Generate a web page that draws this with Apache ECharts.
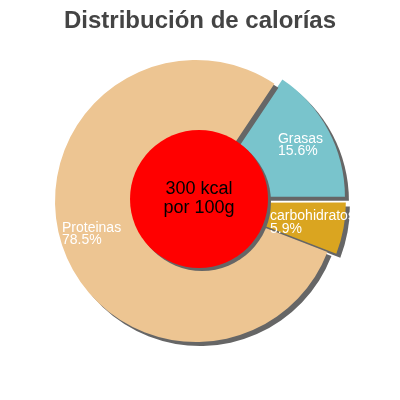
<!DOCTYPE html>
<html>
<head>
<meta charset="utf-8">
<script src="https://cdn.jsdelivr.net/npm/echarts@6/dist/echarts.min.js"></script>
<style>
  html, body { margin: 0; padding: 0; background: #fff; }
  #chart { width: 400px; height: 400px; }
</style>
</head>
<body>
<div id="chart"></div>
<script>
    // datos del gráfico
    var categories = ['Grasas', 'carbohidratos', 'Proteinas'];
    var percents = [15.6, 5.9, 78.5];
    var colors = ['#79c4cc', '#daa520', '#edc592'];
    var exploded = [true, true, false];
    var centerText = '300 kcal\npor 100g';

    var FONT = '"Liberation Sans", Arial, sans-serif';
    var PIE_CENTER = [196, 201];

    var sliceData = categories.map(function (name, i) {
        return {
            name: name,
            value: percents[i],
            selected: exploded[i],
            itemStyle: {color: colors[i]}
        };
    });

    var labelData = categories.map(function (name, i) {
        return {name: name, value: percents[i], selected: exploded[i]};
    });

    var chart = echarts.init(document.getElementById('chart'));
    chart.setOption({
        animation: false,
        title: {
            text: 'Distribución de calorías',
            left: 'center',
            top: 4,
            textStyle: {fontFamily: FONT, fontSize: 24, fontWeight: 'bold', color: '#444'}
        },
        series: [
            {
                // porciones con sombra
                type: 'pie',
                z: 1,
                center: PIE_CENTER,
                radius: [0, 141],
                startAngle: 56.2,
                clockwise: true,
                selectedMode: 'multiple',
                selectedOffset: 9,
                silent: true,
                label: {show: false},
                labelLine: {show: false},
                itemStyle: {
                    shadowColor: '#666',
                    shadowBlur: 0,
                    shadowOffsetX: 4,
                    shadowOffsetY: 4
                },
                select: {itemStyle: {}},
                emphasis: {disabled: true},
                data: sliceData
            },
            {
                // círculo central
                type: 'pie',
                z: 2,
                center: [199, 199],
                radius: [0, 69],
                silent: true,
                label: {
                    show: true,
                    position: 'center',
                    formatter: centerText,
                    fontFamily: FONT,
                    fontSize: 18,
                    lineHeight: 19,
                    color: '#000'
                },
                labelLine: {show: false},
                itemStyle: {
                    color: '#ff0000',
                    shadowColor: '#666',
                    shadowBlur: 0,
                    shadowOffsetX: 3,
                    shadowOffsetY: 3
                },
                emphasis: {disabled: true},
                data: [{name: 'kcal', value: 1}]
            },
            {
                // etiquetas
                type: 'pie',
                z: 3,
                center: PIE_CENTER,
                radius: [72, 141],
                startAngle: 56.2,
                clockwise: true,
                selectedMode: 'multiple',
                selectedOffset: 9,
                silent: true,
                itemStyle: {color: 'rgba(0,0,0,0)'},
                label: {
                    show: true,
                    position: 'inside',
                    formatter: '{t|{b}}\n{t|{c}%}',
                    rich: {
                        t: {fontFamily: FONT, fontSize: 14, lineHeight: 12.5, color: '#fff', align: 'left'}
                    }
                },
                labelLine: {show: false},
                select: {itemStyle: {color: 'rgba(0,0,0,0)'}},
                emphasis: {disabled: true},
                data: labelData
            }
        ]
    });
</script>
</body>
</html>
